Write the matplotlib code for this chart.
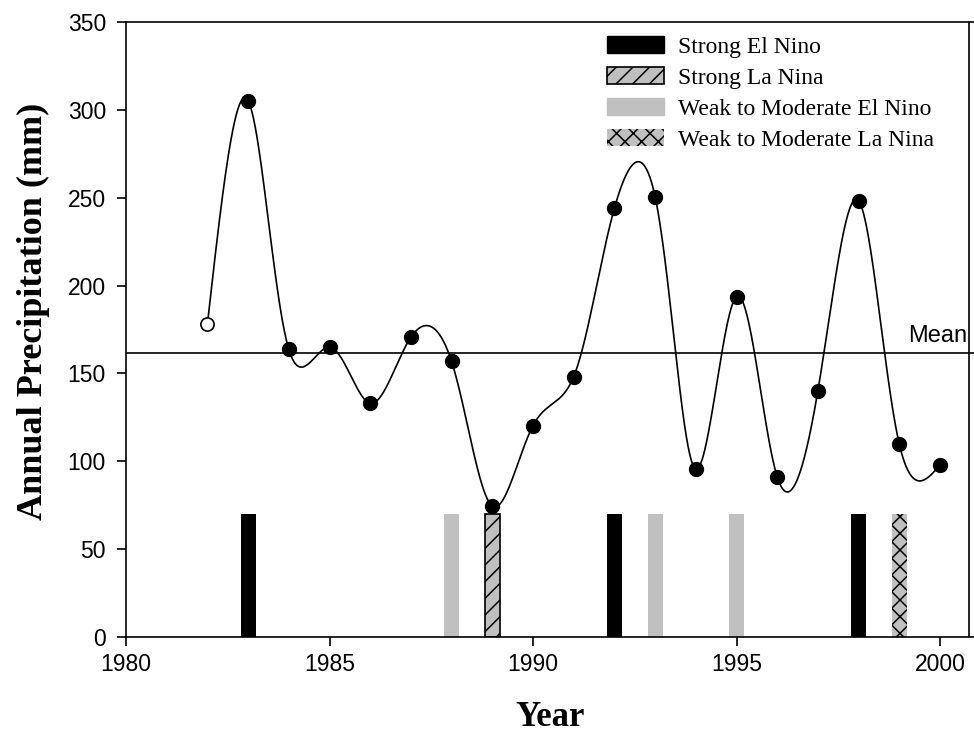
import matplotlib
matplotlib.use('Agg')
import matplotlib.pyplot as plt
from matplotlib.patches import Patch
import numpy as np

# annual precipitation (mm)
years = [1982, 1983, 1984, 1985, 1986, 1987, 1988, 1989, 1990, 1991,
         1992, 1993, 1994, 1995, 1996, 1997, 1998, 1999, 2000]
precip = [178.0, 305.2, 163.7, 164.9, 133.0, 170.6, 156.8, 74.5, 120.3, 148.2,
          244.0, 250.6, 95.6, 193.7, 91.2, 140.2, 248.3, 109.8, 97.9]
mean_precip = 161.8

# ENSO events
strong_el_nino = [1983, 1992, 1998]
strong_la_nina = [1989]
weak_el_nino = [1988, 1993, 1995]
weak_la_nina = [1999]
event_height = 70

GRAY = '#c0c0c0'
SERIF = ['Liberation Serif', 'DejaVu Serif']
SANS = ['Liberation Sans', 'DejaVu Sans']


def natural_spline(x, y, xs):
    x = np.asarray(x, float)
    y = np.asarray(y, float)
    n = len(x)
    h = np.diff(x)
    A = np.zeros((n, n))
    b = np.zeros(n)
    A[0, 0] = 1
    A[-1, -1] = 1
    for i in range(1, n - 1):
        A[i, i - 1] = h[i - 1]
        A[i, i] = 2 * (h[i - 1] + h[i])
        A[i, i + 1] = h[i]
        b[i] = 6 * ((y[i + 1] - y[i]) / h[i] - (y[i] - y[i - 1]) / h[i - 1])
    M = np.linalg.solve(A, b)
    idx = np.clip(np.searchsorted(x, xs) - 1, 0, n - 2)
    x0, x1 = x[idx], x[idx + 1]
    hh = x1 - x0
    t0 = x1 - xs
    t1 = xs - x0
    return (M[idx] * t0**3 / (6 * hh) + M[idx + 1] * t1**3 / (6 * hh)
            + (y[idx] / hh - M[idx] * hh / 6) * t0
            + (y[idx + 1] / hh - M[idx + 1] * hh / 6) * t1)


def smooth_curve(x, y, sx, sy, alpha=0.1, n=1500):
    # parametric spline, knot spacing from screen-space chord length
    x = np.asarray(x, float)
    y = np.asarray(y, float)
    d = np.hypot(np.diff(x) * sx, np.diff(y) * sy)
    t = np.concatenate([[0], np.cumsum(d ** alpha)])
    ts = np.linspace(0, t[-1], n)
    return natural_spline(t, x, ts), natural_spline(t, y, ts)


plt.rcParams['font.family'] = SANS
plt.rcParams['hatch.linewidth'] = 1.1
fig = plt.figure(figsize=(9.74, 7.42), dpi=100)
W, H = 974, 742
ax = fig.add_axes([126 / W, (H - 637) / H, (974 - 126) / W, (637 - 22) / H])

bw = 0.37
ax.bar(strong_el_nino, [event_height] * len(strong_el_nino), width=bw,
       color='black', zorder=2)
ax.bar(strong_la_nina, [event_height] * len(strong_la_nina), width=bw,
       color=GRAY, edgecolor='black', hatch='//', linewidth=1.2, zorder=2)
ax.bar(weak_el_nino, [event_height] * len(weak_el_nino), width=bw,
       color=GRAY, zorder=2)
ax.bar(weak_la_nina, [event_height] * len(weak_la_nina), width=bw,
       color=GRAY, edgecolor='black', hatch='xx', linewidth=0, zorder=2)

cx, cy = smooth_curve(years, precip, 40.7, 1.757)
ax.plot(cx, cy, color='black', lw=1.2, zorder=3)
ax.plot(years[1:], precip[1:], 'o', color='black', ms=10, zorder=4)
ax.plot(years[:1], precip[:1], 'o', mfc='white', mec='black', mew=1.2, ms=9.5, zorder=4)

ax.axhline(mean_precip, color='black', lw=1.2, zorder=3)
ax.text(2000.66, mean_precip + 3, 'Mean', ha='right', va='bottom', fontsize=17)
ax.axvline(2000.71, color='black', lw=1.2)

ax.set_xlim(1980, 1980 + (974 - 126) / 40.7)
ax.set_ylim(0, 350)
ax.set_xticks([1980, 1985, 1990, 1995, 2000])
ax.set_yticks(range(0, 351, 50))
ax.tick_params(direction='out', length=6.5, width=1.2, labelsize=16.5)
ax.tick_params(axis='x', pad=5)
ax.tick_params(axis='y', pad=8)
ax.spines['right'].set_visible(False)
for s in ['left', 'bottom', 'top']:
    ax.spines[s].set_linewidth(1.2)

ax.set_xlabel('Year', family=SERIF, fontweight='bold', fontsize=25)
ax.set_ylabel('Annual Precipitation (mm)', family=SERIF, fontweight='bold',
              fontsize=26)
ax.xaxis.set_label_coords(0.5, (637 - 701) / 615)
ax.yaxis.set_label_coords((50 - 126) / 848, 0.53)

handles = [
    Patch(facecolor='black', edgecolor='black'),
    Patch(facecolor=GRAY, edgecolor='black', hatch='//', linewidth=1.2),
    Patch(facecolor=GRAY, edgecolor=GRAY),
    Patch(facecolor=GRAY, edgecolor='black', hatch='xx', linewidth=0),
]
labels = ['Strong El Nino', 'Strong La Nina', 'Weak to Moderate El Nino',
          'Weak to Moderate La Nina']
ax.legend(handles, labels, loc='upper left',
          bbox_to_anchor=(607 / W, 1 - 36 / H), bbox_transform=fig.transFigure,
          frameon=False, borderpad=0, borderaxespad=0,
          prop={'family': SERIF, 'size': 17},
          handlelength=2.4, handleheight=0.72, handletextpad=0.6,
          labelspacing=0.4)

fig.savefig('out.png', dpi=100)
